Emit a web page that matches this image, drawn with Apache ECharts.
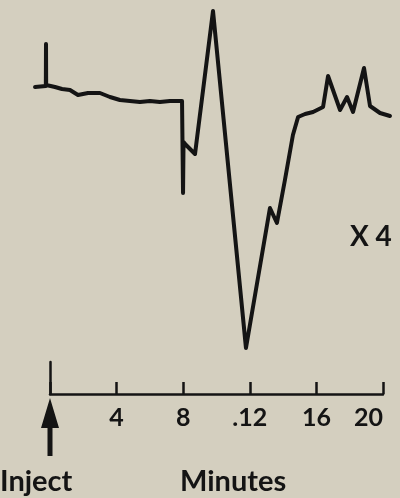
<!DOCTYPE html>
<html>
<head>
<meta charset="utf-8">
<script src="https://cdn.jsdelivr.net/npm/echarts@6/dist/echarts.min.js"></script>
<style>
  html, body { margin: 0; padding: 0; background: #d4cfbf; }
  #chart { width: 400px; height: 498px; }
</style>
</head>
<body>
<div id="chart"></div>
<script>
// Retention time (minutes) of each recorded point of the trace
const minutes = [
  -0.90, -0.25, -0.24, -0.23, 0.30, 0.72, 1.20, 1.68, 2.28, 3.00, 3.60, 4.20,
  4.80, 5.40, 6.00, 6.60, 7.20, 7.93, 7.99, 8.02, 8.17, 8.71, 9.79, 11.77,
  13.21, 13.63, 14.11, 14.59, 14.90, 15.32, 15.80, 16.40, 16.70, 17.42, 17.84,
  18.20, 18.86, 19.22, 19.82, 20.42
];
// Detector response (arbitrary units, x4 attenuation)
const response = [
  1.3, 1.4, 5.6, 1.5, 1.3, 1.1, 1.0, 0.5, 0.7, 0.7, 0.3, 0.0,
  -0.1, -0.2, -0.1, -0.2, -0.1, -0.1, -9.3, -4.2, -4.5, -5.4, 8.9, -24.8,
  -10.8, -12.3, -8.0, -3.5, -1.7, -1.4, -1.2, -0.7, 2.4, -1.0, 0.3,
  -1.2, 3.2, -0.6, -1.3, -1.6
];
// Time axis
const tickValues = [4, 8, 12, 16, 20];
const tickLabels = ['4', '8', '.12', '16', '20'];

const ink = '#141414';
const font = 'Lato, "DejaVu Sans", sans-serif';

// Both grids share the same pixels-per-minute: the time axis spans 0-20 over 333px
const axisLeft = 50, axisRight = 17;
const pxPerMin = (400 - axisLeft - axisRight) / 20;
const traceMin = -1, traceMax = 20.5;

const trace = minutes.map((m, i) => [m, response[i]]);

const chart = echarts.init(document.getElementById('chart'), null, { renderer: 'canvas' });

chart.setOption({
  backgroundColor: '#d4cfbf',
  animation: false,
  grid: [
    {
      left: axisLeft + traceMin * pxPerMin,
      right: 400 - (axisLeft + traceMax * pxPerMin),
      top: 0, height: 360
    },
    { left: axisLeft, right: axisRight, top: 362, height: 32 }
  ],
  xAxis: [
    { gridIndex: 0, type: 'value', min: traceMin, max: traceMax, show: false },
    {
      gridIndex: 1, type: 'value', min: 0, max: 20, interval: 4,
      axisLine: { show: true, lineStyle: { color: ink, width: 2.5 } },
      axisTick: { show: true, inside: true, length: 12, lineStyle: { color: ink, width: 2.5 } },
      splitLine: { show: false },
      axisLabel: {
        color: ink, fontFamily: font, fontWeight: 'bold', fontSize: 25, margin: 11,
        alignMaxLabel: 'right',
        formatter: v => {
          const k = tickValues.indexOf(v);
          return k < 0 ? '' : tickLabels[k];
        }
      }
    }
  ],
  yAxis: [
    { gridIndex: 0, type: 'value', min: -26, max: 10, show: false },
    {
      gridIndex: 1, type: 'value', min: 0, max: 1,
      axisLine: { show: true, lineStyle: { color: ink, width: 2.5 } },
      axisTick: { show: false }, axisLabel: { show: false }, splitLine: { show: false }
    }
  ],
  series: [
    {
      type: 'line',
      xAxisIndex: 0, yAxisIndex: 0,
      data: trace,
      showSymbol: false,
      smooth: false,
      lineStyle: { color: ink, width: 4, join: 'round', cap: 'round' }
    }
  ]
});

// Injection arrow under the start of the time axis, plus the text annotations
const x0 = chart.convertToPixel({ xAxisIndex: 1 }, 0);
chart.setOption({
  graphic: [
    {
      type: 'polygon',
      shape: { points: [[x0, 398], [x0 + 9, 428], [x0 + 2.5, 428], [x0 + 2.5, 456], [x0 - 2.5, 456], [x0 - 2.5, 428], [x0 - 9, 428]] },
      style: { fill: ink }
    },
    {
      type: 'text', left: 0, top: 467,
      style: { text: 'Inject', fill: ink, font: 'bold 29px ' + font }
    },
    {
      type: 'text', left: 180, top: 467,
      style: { text: 'Minutes', fill: ink, font: 'bold 29px ' + font }
    },
    {
      type: 'text', left: 350, top: 223,
      style: { text: 'X 4', fill: ink, font: 'bold 28px ' + font }
    }
  ]
});
</script>
</body>
</html>
